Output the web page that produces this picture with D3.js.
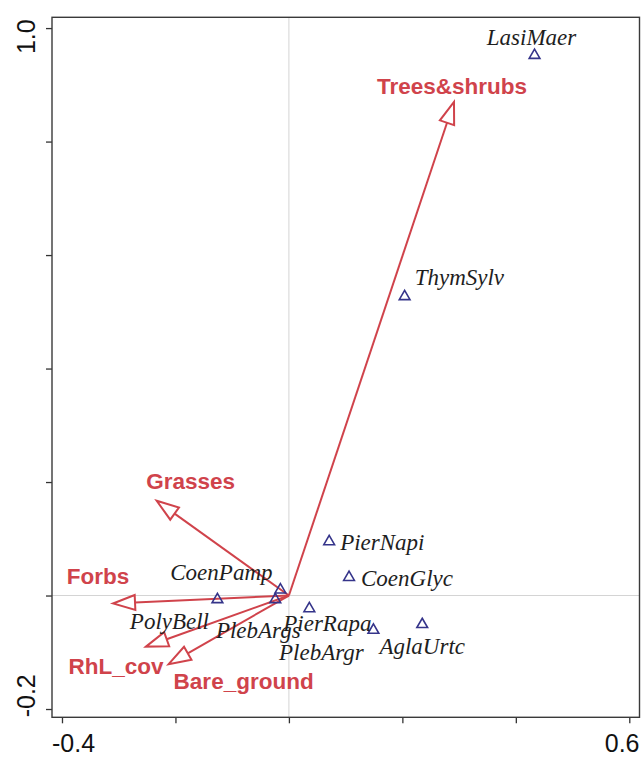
<!DOCTYPE html>
<html>
<head>
<meta charset="utf-8">
<script src="https://cdn.jsdelivr.net/npm/d3@7"></script>
<style>
  html, body { margin: 0; padding: 0; background: #fff; }
  svg { display: block; }
</style>
</head>
<body>
<svg id="chart" width="642" height="758"></svg>
<script>
// Ordination biplot: species scores (triangles) and environmental vectors (arrows)

// Species
const species = ["LasiMaer", "ThymSylv", "PierNapi", "CoenGlyc", "CoenPamp",
                 "PlebArgs", "PolyBell", "PierRapa", "PlebArgr", "AglaUrtc"];
const speciesX = [0.433, 0.204, 0.071, 0.106, -0.015, -0.024, -0.126, 0.036, 0.149, 0.235];
const speciesY = [0.952, 0.527, 0.095, 0.032, 0.010, -0.007, -0.007, -0.023, -0.061, -0.051];

// Environmental variables
const variables = ["Trees&shrubs", "Grasses", "Forbs", "RhL_cov", "Bare_ground"];
const variableX = [0.291, -0.233, -0.310, -0.252, -0.212];
const variableY = [0.870, 0.167, -0.014, -0.090, -0.121];

// Axis ticks
const xTicks = [-0.4, -0.2, 0, 0.2, 0.4, 0.6];
const yTicks = [-0.2, 0, 0.2, 0.4, 0.6, 0.8, 1.0];
const xTickLabels = [{ v: -0.4, t: "-0.4" }, { v: 0.6, t: "0.6" }];
const yTickLabels = [{ v: -0.2, t: "-0.2" }, { v: 1.0, t: "1.0" }];

// Label placement (pixel offsets from each mark)
const speciesLabelLayout = {
  LasiMaer: { dx: -3, dy: -18, anchor: "middle" },
  ThymSylv: { dx: 10, dy: -19, anchor: "start" },
  PierNapi: { dx: 11, dy: 1, anchor: "start" },
  CoenGlyc: { dx: 12, dy: 1, anchor: "start" },
  CoenPamp: { dx: -59, dy: -18, anchor: "middle" },
  PlebArgs: { dx: -17, dy: 31, anchor: "middle" },
  PolyBell: { dx: -48, dy: 22, anchor: "middle" },
  PierRapa: { dx: 18, dy: 15, anchor: "middle" },
  PlebArgr: { dx: -52, dy: 22, anchor: "middle" },
  AglaUrtc: { dx: 0, dy: 22, anchor: "middle" }
};
const variableLabelLayout = {
  "Trees&shrubs": { dx: -2, dy: -16 },
  "Grasses": { dx: 34, dy: -20 },
  "Forbs": { dx: -15, dy: -28 },
  "RhL_cov": { dx: -30, dy: 19 },
  "Bare_ground": { dx: 75, dy: 17 }
};

const red = "#d0434b";
const navy = "#35348a";

const svg = d3.select("#chart");
const frame = { left: 52, right: 639.5, top: 17.3, bottom: 717.3 };

const x = d3.scaleLinear().domain([-0.4176, 0.618]).range([frame.left, frame.right]);
const y = d3.scaleLinear().domain([-0.2146, 1.019]).range([frame.bottom, frame.top]);

// Zero reference lines
svg.append("line")
  .attr("x1", x(0)).attr("x2", x(0))
  .attr("y1", frame.top).attr("y2", frame.bottom)
  .attr("stroke", "#d4d4d4").attr("stroke-width", 1);
svg.append("line")
  .attr("x1", frame.left).attr("x2", frame.right)
  .attr("y1", y(0)).attr("y2", y(0))
  .attr("stroke", "#d4d4d4").attr("stroke-width", 1);

// Ticks
const xAxis = svg.append("g")
  .attr("transform", `translate(0,${frame.bottom})`)
  .call(d3.axisBottom(x).tickValues(xTicks).tickFormat("").tickSizeInner(6).tickSizeOuter(0));
const yAxis = svg.append("g")
  .attr("transform", `translate(${frame.left},0)`)
  .call(d3.axisLeft(y).tickValues(yTicks).tickFormat("").tickSizeInner(6).tickSizeOuter(0));
[xAxis, yAxis].forEach(g => {
  g.select(".domain").remove();
  g.selectAll(".tick line").attr("stroke", "#333").attr("stroke-width", 1.3);
});

// Frame
svg.append("rect")
  .attr("x", frame.left).attr("y", frame.top)
  .attr("width", frame.right - frame.left).attr("height", frame.bottom - frame.top)
  .attr("fill", "none").attr("stroke", "#3a3a3a").attr("stroke-width", 1.4);

// End tick labels
svg.selectAll(".xlab").data(xTickLabels).enter().append("text")
  .attr("class", "xlab")
  .attr("x", (d, i) => i === 0 ? frame.left : frame.right)
  .attr("y", 752)
  .attr("text-anchor", (d, i) => i === 0 ? "start" : "end")
  .attr("font-family", "'Liberation Sans', Arial, sans-serif")
  .attr("font-size", 25)
  .attr("fill", "#111")
  .text(d => d.t);
svg.selectAll(".ylab").data(yTickLabels).enter().append("text")
  .attr("class", "ylab")
  .attr("transform", (d, i) => `translate(35,${i === 0 ? frame.bottom : frame.top + 2}) rotate(-90)`)
  .attr("text-anchor", (d, i) => i === 0 ? "start" : "end")
  .attr("font-family", "'Liberation Sans', Arial, sans-serif")
  .attr("font-size", 25)
  .attr("fill", "#111")
  .text(d => d.t);

// Environmental arrows
const ox = x(0), oy = y(0);
const headLen = 22, headHalf = 7.5;
const vars = variables.map((name, i) => ({ name, vx: variableX[i], vy: variableY[i] }));
const arrows = svg.append("g");
vars.forEach(d => {
  const tx = x(d.vx), ty = y(d.vy);
  const len = Math.hypot(tx - ox, ty - oy);
  const ux = (tx - ox) / len, uy = (ty - oy) / len;
  const bx = tx - ux * headLen, by = ty - uy * headLen;
  const nx = -uy, ny = ux;
  arrows.append("line")
    .attr("x1", ox).attr("y1", oy).attr("x2", bx).attr("y2", by)
    .attr("stroke", red).attr("stroke-width", 2);
  const head = d3.path();
  head.moveTo(tx, ty);
  head.lineTo(bx + nx * headHalf, by + ny * headHalf);
  head.lineTo(bx - nx * headHalf, by - ny * headHalf);
  head.closePath();
  arrows.append("path")
    .attr("d", head.toString())
    .attr("fill", "none").attr("stroke", red).attr("stroke-width", 2)
    .attr("stroke-linejoin", "miter");
  const lay = variableLabelLayout[d.name];
  arrows.append("text")
    .attr("x", tx + lay.dx).attr("y", ty + lay.dy + 22.5 * 0.36)
    .attr("text-anchor", "middle")
    .attr("font-family", "'Liberation Sans', Arial, sans-serif")
    .attr("font-weight", "bold")
    .attr("font-size", 22.5)
    .attr("fill", red)
    .text(d.name);
});

// Species points
const spp = species.map((name, i) => ({ name, sx: speciesX[i], sy: speciesY[i] }));
const tri = d3.symbol(d3.symbolTriangle, 50);
const pts = svg.append("g");
pts.selectAll("path").data(spp).enter().append("path")
  .attr("d", tri)
  .attr("transform", d => `translate(${x(d.sx)},${y(d.sy)})`)
  .attr("fill", "none").attr("stroke", navy).attr("stroke-width", 1.6);
pts.selectAll("text").data(spp).enter().append("text")
  .attr("x", d => x(d.sx) + speciesLabelLayout[d.name].dx)
  .attr("y", d => y(d.sy) + speciesLabelLayout[d.name].dy + 23 * 0.34)
  .attr("text-anchor", d => speciesLabelLayout[d.name].anchor)
  .attr("font-family", "'Liberation Serif', 'Times New Roman', serif")
  .attr("font-style", "italic")
  .attr("font-size", 23)
  .attr("fill", "#1e1e1e")
  .text(d => d.name);
</script>
</body>
</html>
